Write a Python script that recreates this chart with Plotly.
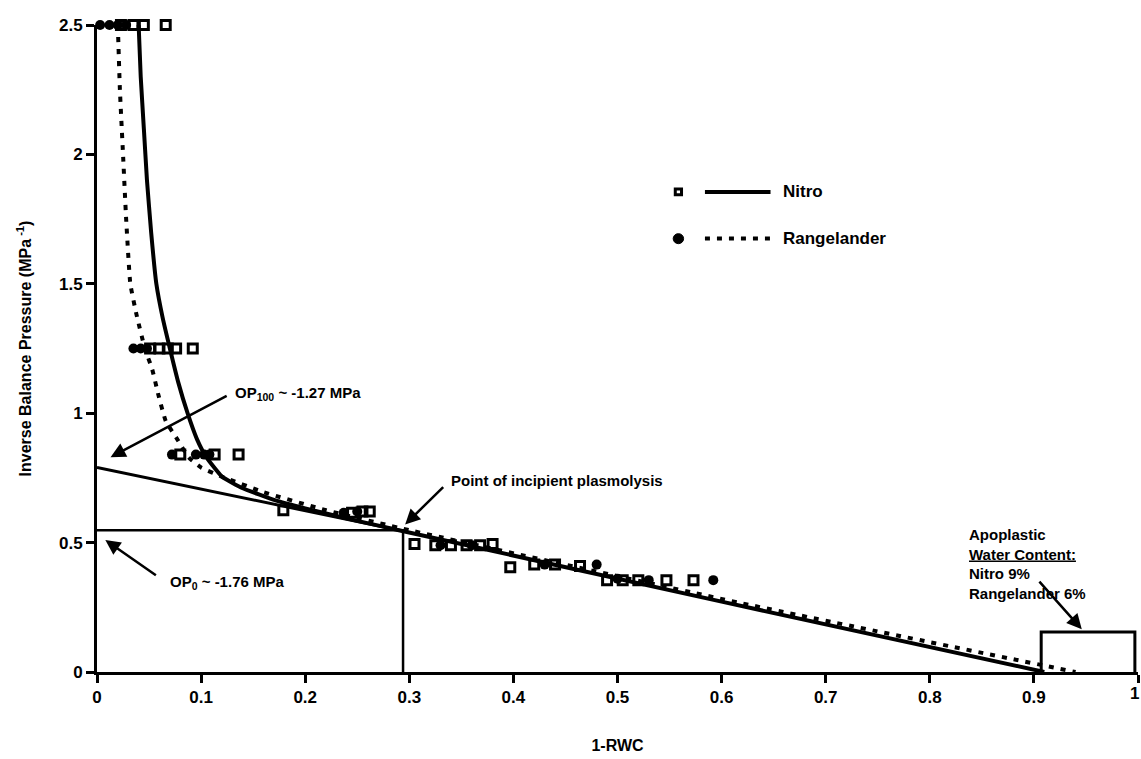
import plotly.graph_objects as go

# ---------------- data ----------------
nitro_x = [0.023, 0.035, 0.045, 0.066,
           0.051, 0.060, 0.068, 0.076, 0.092,
           0.080, 0.113, 0.136,
           0.179, 0.245, 0.255, 0.262,
           0.305, 0.325, 0.340, 0.355, 0.368, 0.380,
           0.397, 0.420, 0.440, 0.464,
           0.490, 0.505, 0.520, 0.547, 0.573]
nitro_y = [2.5, 2.5, 2.5, 2.5,
           1.25, 1.25, 1.25, 1.25, 1.25,
           0.84, 0.84, 0.84,
           0.625, 0.615, 0.62, 0.62,
           0.495, 0.49, 0.49, 0.49, 0.49, 0.495,
           0.405, 0.415, 0.415, 0.41,
           0.355, 0.355, 0.355, 0.355, 0.355]

range_x = [0.003, 0.012, 0.020, 0.028,
           0.035, 0.042, 0.048,
           0.072, 0.095, 0.103, 0.108,
           0.237, 0.250,
           0.330, 0.360,
           0.430, 0.480,
           0.500, 0.530, 0.592]
range_y = [2.5, 2.5, 2.5, 2.5,
           1.25, 1.25, 1.25,
           0.84, 0.84, 0.84, 0.84,
           0.615, 0.62,
           0.49, 0.49,
           0.415, 0.415,
           0.36, 0.355, 0.355]

# fitted curves
nitro_curve_x = [0.040, 0.042, 0.045, 0.048, 0.052, 0.057, 0.063, 0.070, 0.078, 0.087,
                 0.096, 0.105, 0.120, 0.140, 0.170, 0.200, 0.250, 0.290, 0.600, 0.910]
nitro_curve_y = [2.5, 2.3, 2.1, 1.9, 1.7, 1.5, 1.37, 1.25, 1.12, 1.0,
                 0.90, 0.83, 0.755, 0.71, 0.665, 0.632, 0.584, 0.548, 0.272, 0.0]

range_curve_x = [0.020, 0.022, 0.025, 0.028, 0.032, 0.038, 0.046, 0.053, 0.059,
                 0.066, 0.077, 0.088, 0.100, 0.120, 0.160, 0.220, 0.300, 0.620, 0.940]
range_curve_y = [2.5, 2.25, 2.0, 1.75, 1.5, 1.38, 1.25, 1.17, 1.07,
                 0.97, 0.90, 0.83, 0.79, 0.755, 0.695, 0.625, 0.548, 0.265, 0.0]

# extrapolation of linear part and incipient plasmolysis guides
extrap_x = [0.0, 0.294]
extrap_y = [0.79, 0.545]
tlp_x = 0.294
tlp_y = 0.548

x_ticks = [0, 0.1, 0.2, 0.3, 0.4, 0.5, 0.6, 0.7, 0.8, 0.9, 1]
x_tick_text = ["0", "0.1", "0.2", "0.3", "0.4", "0.5", "0.6", "0.7", "0.8", "0.9", "1"]
y_ticks = [0, 0.5, 1, 1.5, 2, 2.5]
y_tick_text = ["0", "0.5", "1", "1.5", "2", "2.5"]

FONT = "Liberation Sans"

fig = go.Figure()

fig.add_trace(go.Scatter(x=nitro_curve_x, y=nitro_curve_y, mode="lines",
                         line=dict(color="black", width=4, shape="spline", smoothing=0.4),
                         showlegend=False, cliponaxis=False))
fig.add_trace(go.Scatter(x=range_curve_x, y=range_curve_y, mode="lines",
                         line=dict(color="black", width=4, dash="5px,7px", shape="spline", smoothing=0.4),
                         showlegend=False, cliponaxis=False))
fig.add_trace(go.Scatter(x=extrap_x, y=extrap_y, mode="lines",
                         line=dict(color="black", width=3), showlegend=False))
fig.add_trace(go.Scatter(x=[0, tlp_x, tlp_x], y=[tlp_y, tlp_y, 0], mode="lines",
                         line=dict(color="black", width=2.5), showlegend=False))
fig.add_trace(go.Scatter(x=nitro_x, y=nitro_y, mode="markers",
                         marker=dict(symbol="square-open", size=9, color="black",
                                     line=dict(color="black", width=3)),
                         showlegend=False, cliponaxis=False))
fig.add_trace(go.Scatter(x=range_x, y=range_y, mode="markers",
                         marker=dict(symbol="circle", size=10, color="black"),
                         showlegend=False, cliponaxis=False))

# apoplastic bracket
fig.add_shape(type="path", path="M 0.907 0 L 0.907 0.155 L 0.997 0.155 L 0.997 0",
              line=dict(color="black", width=3), xref="x", yref="y")

# legend (manual)
fig.add_shape(type="rect", xref="paper", yref="paper",
              x0=0.5555, x1=0.5615, y0=0.7375, y1=0.7465,
              line=dict(color="black", width=3), fillcolor="white")
fig.add_shape(type="line", xref="paper", yref="paper", x0=0.584, x1=0.647, y0=0.742, y1=0.742,
              line=dict(color="black", width=4))
fig.add_shape(type="circle", xref="paper", yref="paper",
              x0=0.5535, x1=0.5635, y0=0.662, y1=0.6775,
              line=dict(color="black", width=1), fillcolor="black")
fig.add_shape(type="line", xref="paper", yref="paper", x0=0.584, x1=0.647, y0=0.670, y1=0.670,
              line=dict(color="black", width=4, dash="5px,7px"))
fig.add_annotation(xref="paper", yref="paper", x=0.657, y=0.742, text="<b>Nitro</b>",
                   showarrow=False, xanchor="left", yanchor="middle",
                   font=dict(family=FONT, size=17, color="black"))
fig.add_annotation(xref="paper", yref="paper", x=0.657, y=0.670, text="<b>Rangelander</b>",
                   showarrow=False, xanchor="left", yanchor="middle",
                   font=dict(family=FONT, size=17, color="black"))

ann_font = dict(family=FONT, size=15, color="black")
# OP100
fig.add_annotation(x=0.013, y=0.83, ax=0.126, ay=1.07, axref="x", ayref="y",
                   text="", showarrow=True, arrowhead=2, arrowsize=1.2, arrowwidth=2.5,
                   arrowcolor="black")
fig.add_annotation(x=0.131, y=1.075, text="<b>OP<sub>100</sub> ~ -1.27 MPa</b>", showarrow=False,
                   xanchor="left", yanchor="middle", font=ann_font)
# incipient plasmolysis
fig.add_annotation(x=0.296, y=0.57, ax=0.334, ay=0.72, axref="x", ayref="y",
                   text="", showarrow=True, arrowhead=2, arrowsize=1.2, arrowwidth=2.5,
                   arrowcolor="black")
fig.add_annotation(x=0.338, y=0.74, text="<b>Point of incipient plasmolysis</b>", showarrow=False,
                   xanchor="left", yanchor="middle", font=ann_font)
# OP0
fig.add_annotation(x=0.008, y=0.51, ax=0.058, ay=0.37, axref="x", ayref="y",
                   text="", showarrow=True, arrowhead=2, arrowsize=1.2, arrowwidth=2.5,
                   arrowcolor="black")
fig.add_annotation(x=0.068, y=0.345, text="<b>OP<sub>0</sub> ~ -1.76 MPa</b>", showarrow=False,
                   xanchor="left", yanchor="middle", font=ann_font)
# apoplastic
fig.add_annotation(x=0.946, y=0.165, ax=0.904, ay=0.355, axref="x", ayref="y",
                   text="", showarrow=True, arrowhead=2, arrowsize=1.2, arrowwidth=2.5,
                   arrowcolor="black")
fig.add_annotation(x=0.836, y=0.57,
                   text="<b>Apoplastic<br><u>Water Content:</u><br>Nitro 9%<br>Rangelander 6%</b>",
                   showarrow=False, xanchor="left", yanchor="top", align="left",
                   font=ann_font)

# last x tick label, sitting at the very edge of the page
fig.add_annotation(x=1.0, y=0, yref="paper", text="<b>1</b>", showarrow=False,
                   xanchor="right", xshift=3, yanchor="top", yshift=-10,
                   font=dict(family=FONT, size=17, color="black"))

axis_common = dict(showline=True, linecolor="black", linewidth=3, showgrid=False,
                   zeroline=False, ticks="outside", tickcolor="black", tickwidth=2.5,
                   ticklen=8, tickfont=dict(family=FONT, size=17, color="black"))

fig.update_xaxes(range=[0, 1], tickvals=x_ticks,
                 ticktext=["<b>%s</b>" % t if t != "1" else "" for t in x_tick_text],
                 title=dict(text="<b>1-RWC</b>", font=dict(family=FONT, size=16, color="black"),
                            standoff=34),
                 **axis_common)
fig.update_yaxes(range=[0, 2.5], tickvals=y_ticks, ticktext=["<b>%s</b>" % t for t in y_tick_text],
                 title=dict(text="<b>Inverse Balance Pressure (MPa<sup> -1</sup>)</b>",
                            font=dict(family=FONT, size=16, color="black"), standoff=24),
                 **axis_common)

fig.update_layout(width=1141, height=759, plot_bgcolor="white", paper_bgcolor="white",
                  margin=dict(l=97, r=3, t=25, b=87), showlegend=False)

fig.write_html("out.html")
